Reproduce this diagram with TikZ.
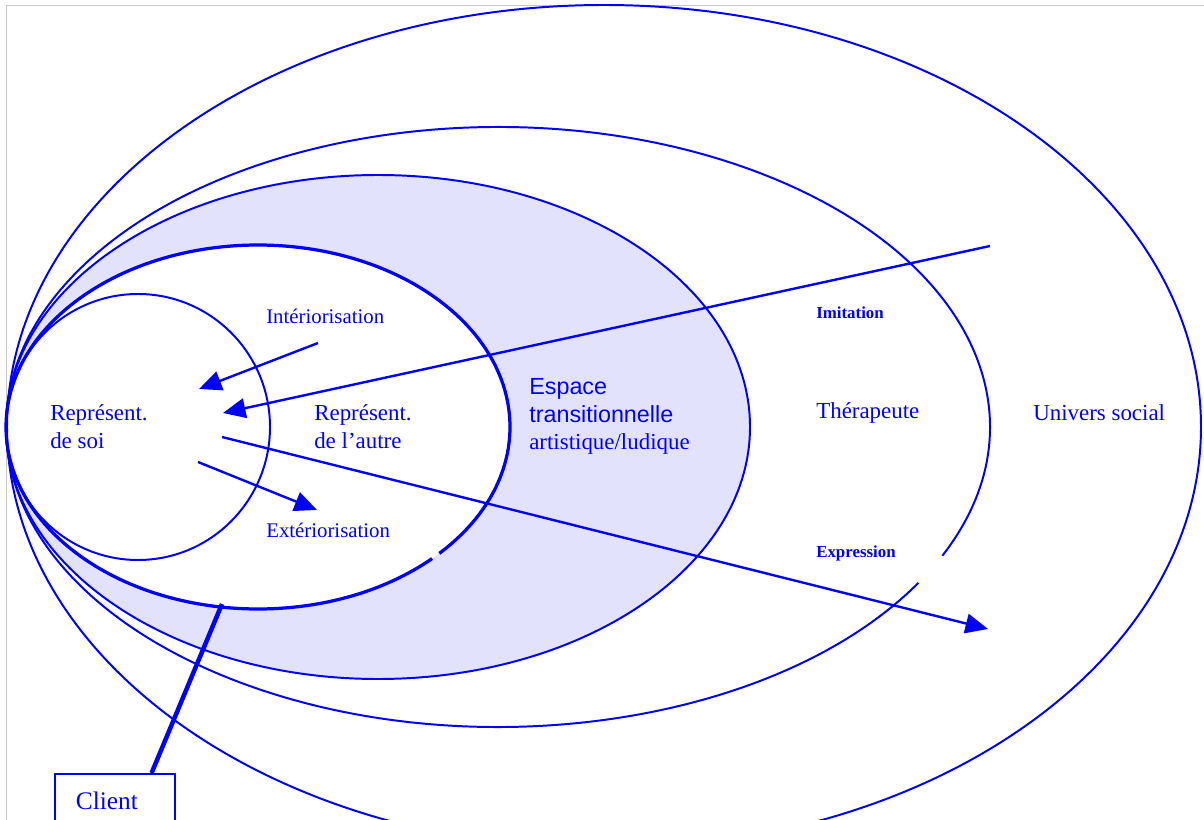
\documentclass[tikz,border=0pt]{standalone}
\usepackage{fontspec}
\setmainfont{Liberation Serif}
\newfontfamily\arialfont{Liberation Sans}
\usepackage{tikz}
\usetikzlibrary{arrows.meta, calc, positioning}
\definecolor{espacefill}{RGB}{226,226,252}
\tikzstyle{frame} = [draw=black!22, line width=0.7pt]
\tikzstyle{ring} = [draw=blue, line width=1.4pt]
\tikzstyle{clientring} = [draw=blue, line width=2.3pt]
\tikzstyle{espace} = [fill=espacefill]
\tikzstyle{arrow} = [draw=blue, line width=1.7pt, -{Triangle[length=16pt,width=14pt]}]
\tikzstyle{clientline} = [draw=blue, line width=3.2pt]
\tikzstyle{txt} = [text=blue, anchor=west, inner sep=0pt, align=left, font=\fontsize{16.3}{19.8}\selectfont]
\tikzstyle{smalltxt} = [txt, font=\fontsize{14.8}{18}\selectfont]
\tikzstyle{tinytxt} = [txt, font=\fontsize{12}{14}\selectfont\bfseries]
\tikzstyle{clientbox} = [rectangle, draw=blue, line width=1.4pt, text=blue, anchor=north west, inner xsep=0.525cm, text width=1.95cm, minimum height=1.35cm, align=left, font=\fontsize{18}{21}\selectfont]

\begin{document}
\begin{tikzpicture}[x=0.025cm, y=-0.025cm]
        \useasboundingbox (0,0) rectangle (1204,820);
        \draw [frame] (1204,5) -- (6,5) -- (6,820);
        \fill [espace, even odd rule] (378,427) ellipse [x radius=372, y radius=252] (258,427) ellipse [x radius=252, y radius=182];
        \draw [ring] (604,427) ellipse [x radius=597, y radius=422];
        \draw [ring] ([shift={(31.3:492 and 300)}]498,427) arc [start angle=31.3, end angle=385.4, x radius=492, y radius=300];
        \draw [ring] (378,427) ellipse [x radius=372, y radius=252];
        \draw [clientring] ([shift={(46.3:252 and 182)}]258,427) arc [start angle=46.3, end angle=404, x radius=252, y radius=182];
        \draw [ring] (138,427) ellipse [x radius=132, y radius=133];

        \node (soi) [txt] at (50,427) {Représent.\\de soi};
        \node (autre) [txt] at (314,427) {Représent.\\de l’autre};
        \node (espace) [txt] at (529,416.5) {\arialfont\fontsize{16.6}{19.5}\selectfont Espace\\\arialfont\fontsize{16.6}{19.5}\selectfont transitionnelle\\\rmfamily artistique/ludique};
        \node (therapeute) [txt] at (816,413) {Thérapeute};
        \node (univers) [txt] at (1033,413) {Univers social};
        \node (interio) [smalltxt] at (266,316) {Intériorisation};
        \node (exterio) [smalltxt] at (266,530) {Extériorisation};
        \node (imitation) [tinytxt] at (816,313) {Imitation};
        \node (expression) [tinytxt] at (816,553) {Expression};

        \coordinate (interio-s) at (318,343);
        \coordinate (interio-e) at (199,389);
        \draw [arrow] (interio-s) -- (interio-e);
        \coordinate (imitation-s) at (990,246);
        \coordinate (imitation-e) at (223,413);
        \draw [arrow] (imitation-s) -- (imitation-e);
        \coordinate (expression-s) at (222,437);
        \coordinate (expression-e) at (988,629);
        \draw [arrow] (expression-s) -- (expression-e);
        \coordinate (exterio-s) at (198,462);
        \coordinate (exterio-e) at (317,510);
        \draw [arrow] (exterio-s) -- (exterio-e);

        \node (client) [clientbox] at (54,773) {Client};
        \coordinate (client-ring) at (222,604);
        \draw [clientline] ($(client.north west)!0.8!(client.north east)$) -- (client-ring);
    \end{tikzpicture}
\end{document}
